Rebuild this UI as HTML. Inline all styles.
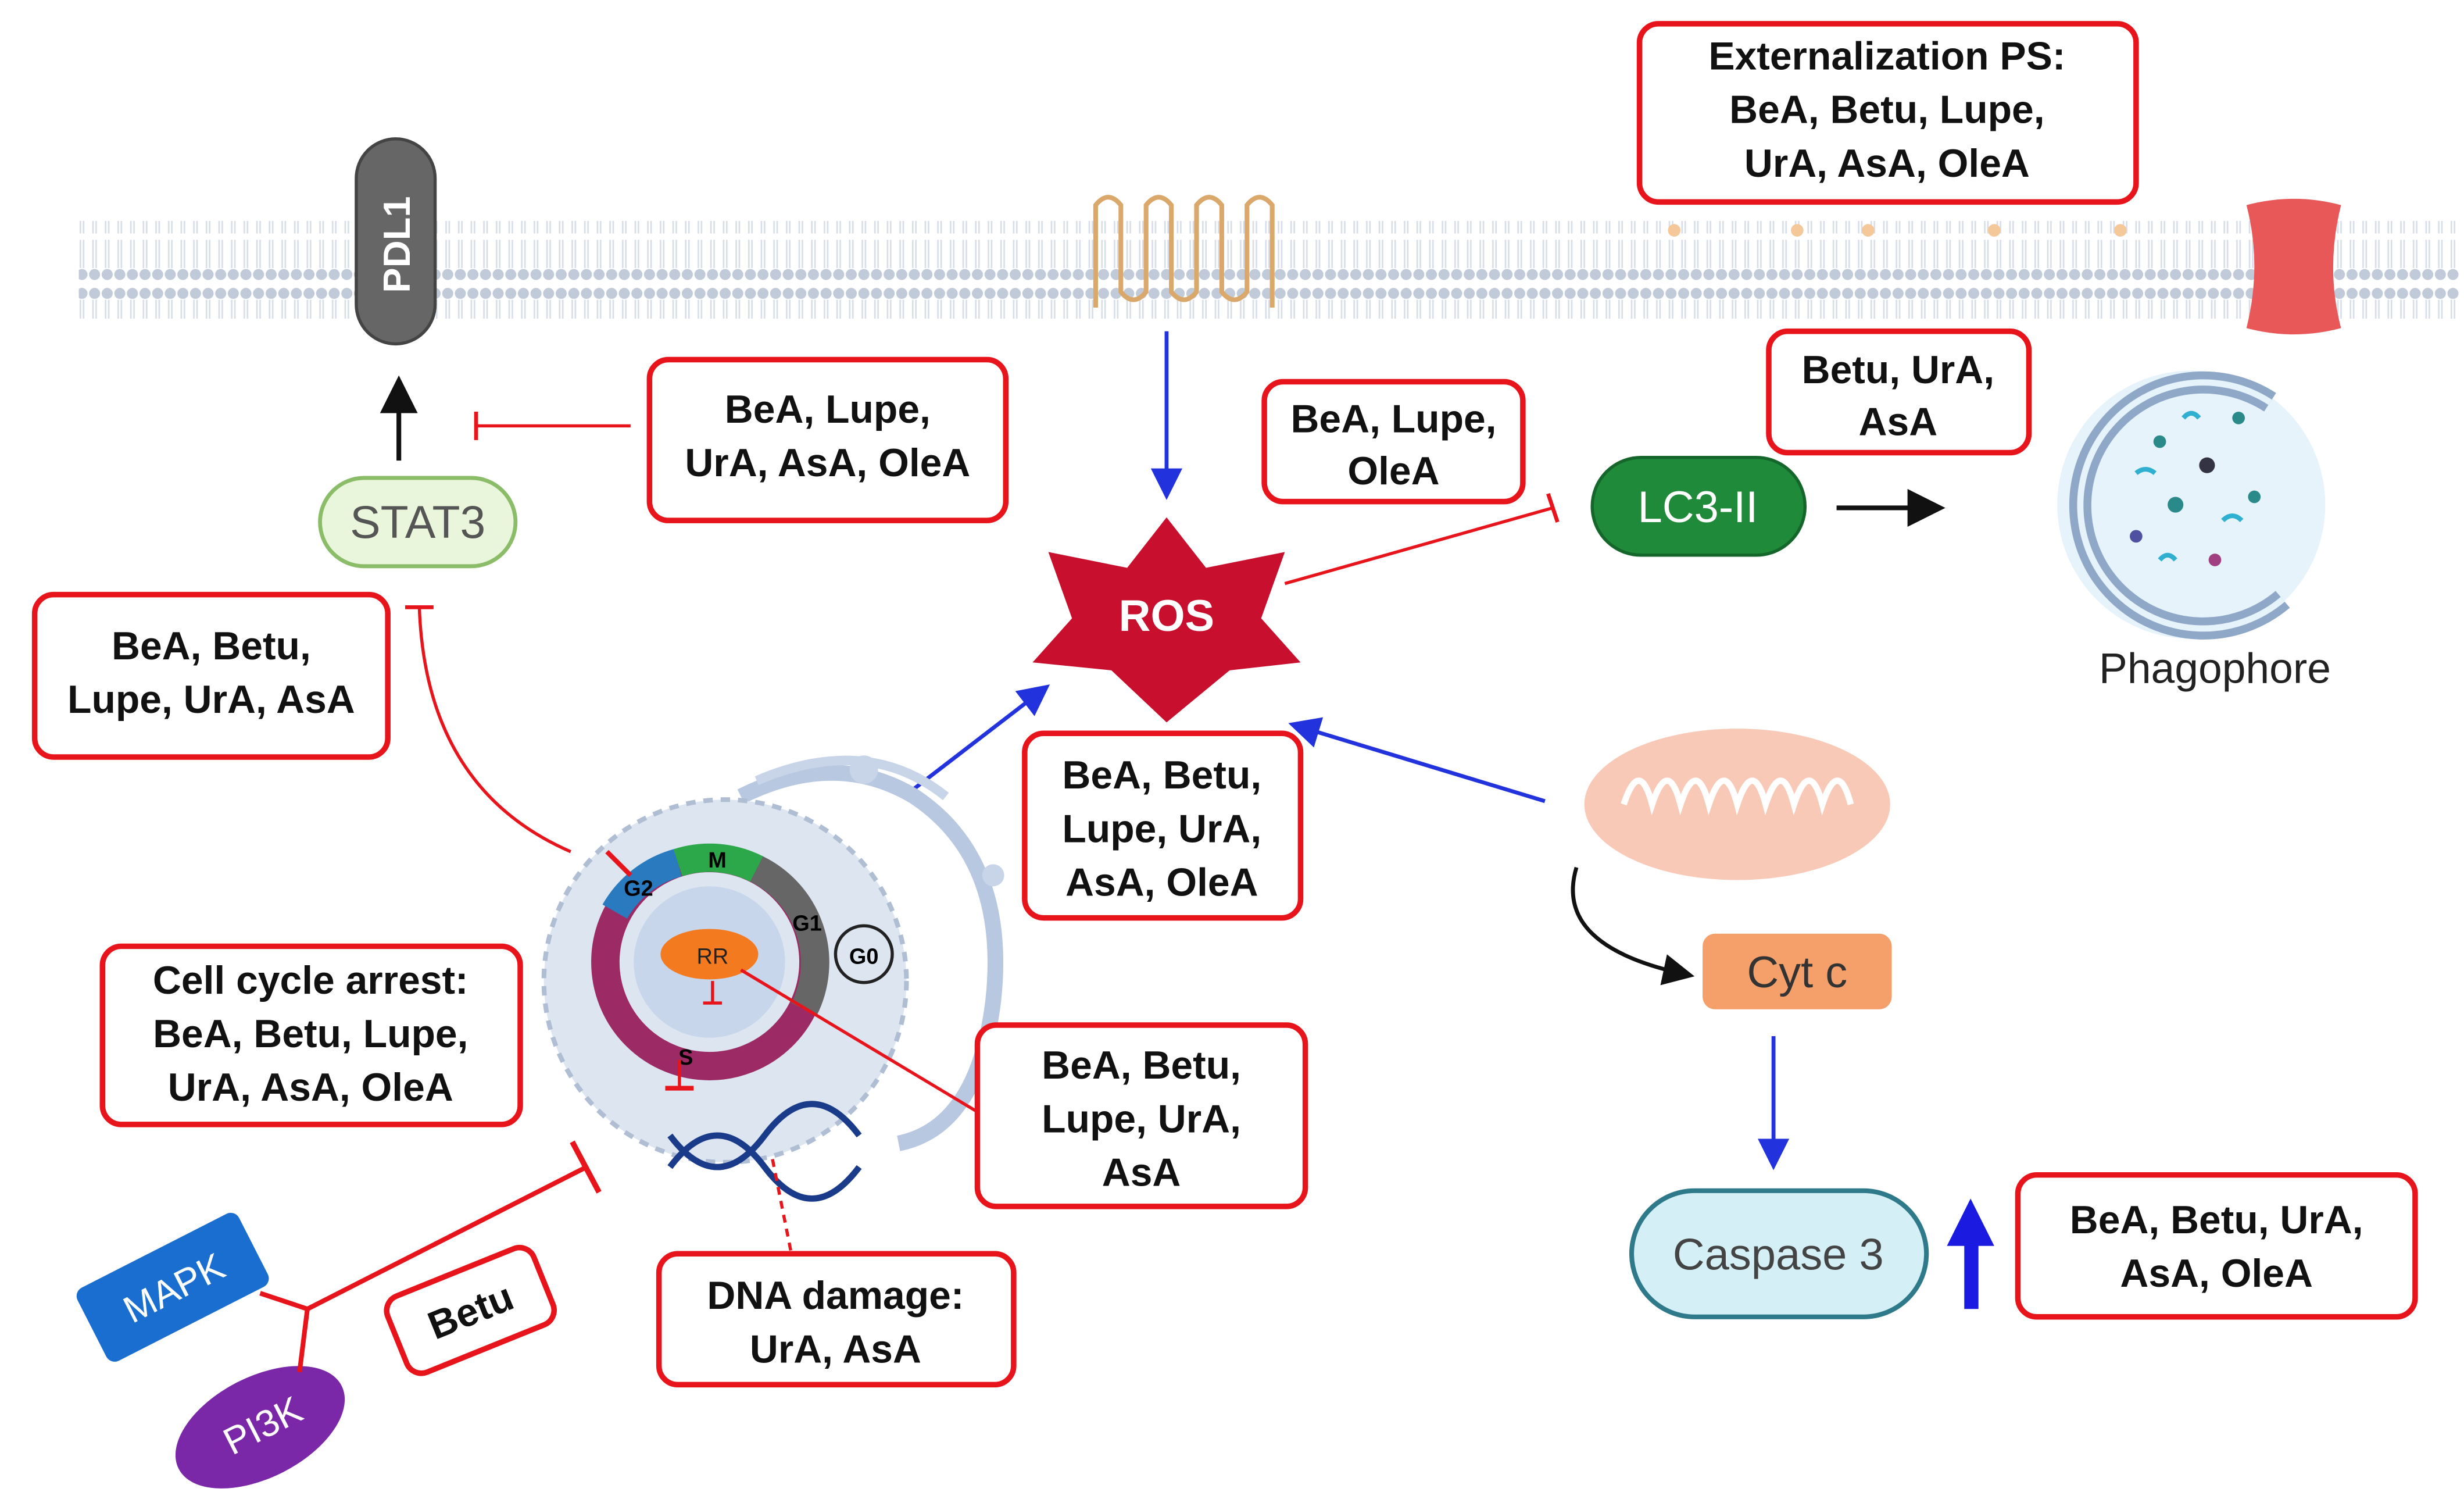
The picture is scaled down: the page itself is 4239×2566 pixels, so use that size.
<!DOCTYPE html>
<html><head><meta charset="utf-8"><style>
html,body{margin:0;padding:0;background:#fff}
svg{display:block}
.b{fill:#fff;stroke:#e8141c;stroke-width:3.5}
.t{font-family:"Liberation Sans",sans-serif;font-weight:bold;font-size:25px;fill:#111;text-anchor:middle}
</style></head><body>
<svg width="4239" height="2566" viewBox="0 0 1563 946" xmlns="http://www.w3.org/2000/svg">
<defs>
<pattern id="mem" width="8" height="60" patternUnits="userSpaceOnUse">
<circle cx="4" cy="6" r="3.5" fill="#c0cad8"/>
<circle cx="4" cy="54" r="3.5" fill="#c0cad8"/>
<line x1="3" y1="10" x2="3" y2="28" stroke="#d8dee8" stroke-width="1"/>
<line x1="5" y1="10" x2="5" y2="28" stroke="#d8dee8" stroke-width="1"/>
<line x1="3" y1="32" x2="3" y2="50" stroke="#d8dee8" stroke-width="1"/>
<line x1="5" y1="32" x2="5" y2="50" stroke="#d8dee8" stroke-width="1"/>
</pattern>
<marker id="ab" markerWidth="8" markerHeight="8" refX="6" refY="4" orient="auto"><path d="M0,0L8,4L0,8z" fill="#2233dd"/></marker>
<marker id="ak" markerWidth="8" markerHeight="8" refX="6" refY="4" orient="auto"><path d="M0,0L8,4L0,8z" fill="#111"/></marker>
</defs>
<rect x="50" y="140" width="1510" height="62" fill="url(#mem)"/>
<g fill="#f5c89a"><circle cx="1062" cy="146" r="4"/><circle cx="1140" cy="146" r="4"/><circle cx="1185" cy="146" r="4"/><circle cx="1265" cy="146" r="4"/><circle cx="1345" cy="146" r="4"/></g>
<!-- PDL1 -->
<rect x="226" y="88" width="50" height="130" rx="25" fill="#666" stroke="#444" stroke-width="2"/>
<text x="0" y="0" transform="translate(260,155) rotate(-90)" font-family="Liberation Sans,sans-serif" font-weight="bold" font-size="24" fill="#fff" text-anchor="middle">PDL1</text>
<line x1="253" y1="292" x2="253" y2="244" stroke="#111" stroke-width="3" marker-end="url(#ak)"/>
<rect x="203" y="303" width="124" height="56" rx="28" fill="#eaf6dc" stroke="#8bbd68" stroke-width="2.5"/>
<text x="265" y="341" font-family="Liberation Sans,sans-serif" font-size="29" fill="#555" text-anchor="middle">STAT3</text>
<line x1="400" y1="270" x2="302" y2="270" stroke="#e8141c" stroke-width="2"/><line x1="302" y1="261" x2="302" y2="279" stroke="#e8141c" stroke-width="2.5"/>
<rect class="b" x="412" y="228" width="226" height="102" rx="12"/><text class="t" x="525" y="268">BeA, Lupe,</text><text class="t" x="525" y="302">UrA, AsA, OleA</text>
<rect class="b" x="22" y="377" width="224" height="103" rx="12"/><text class="t" x="134" y="418">BeA, Betu,</text><text class="t" x="134" y="452">Lupe, UrA, AsA</text>
<path d="M362,540 Q270,500 266,385" fill="none" stroke="#e8141c" stroke-width="2"/><line x1="257" y1="385" x2="275" y2="385" stroke="#e8141c" stroke-width="2.5"/>
<!-- GPCR -->
<path d="M695,195 V130 q8,-10 16,0 V185 q8,10 16,0 V130 q8,-10 16,0 V185 q8,10 16,0 V130 q8,-10 16,0 V185 q8,10 16,0 V130 q8,-10 16,0 V195" fill="none" stroke="#d9a86a" stroke-width="3"/>
<line x1="740" y1="210" x2="740" y2="312" stroke="#2233dd" stroke-width="2.5" marker-end="url(#ab)"/>
<!-- ROS -->
<polygon points="740,328 765,360 815,350 800,392 825,420 780,425 740,458 705,425 655,420 680,392 665,350 715,360" fill="#c8102e"/>
<text x="740" y="400" font-family="Liberation Sans,sans-serif" font-weight="bold" font-size="28" fill="#fff" text-anchor="middle">ROS</text>
<rect class="b" x="802" y="242" width="164" height="76" rx="12"/><text class="t" x="884" y="274">BeA, Lupe,</text><text class="t" x="884" y="307">OleA</text>
<line x1="815" y1="370" x2="985" y2="322" stroke="#e8141c" stroke-width="2"/><line x1="982" y1="313" x2="988" y2="331" stroke="#e8141c" stroke-width="2.5"/>
<rect x="1010" y="290" width="135" height="62" rx="31" fill="#1f8a3a" stroke="#14662a" stroke-width="2"/>
<text x="1077" y="331" font-family="Liberation Sans,sans-serif" font-size="28" fill="#fff" text-anchor="middle">LC3-II</text>
<line x1="1165" y1="322" x2="1228" y2="322" stroke="#111" stroke-width="3" marker-end="url(#ak)"/>
<rect class="b" x="1122" y="210" width="165" height="77" rx="12"/><text class="t" x="1204" y="243">Betu, UrA,</text><text class="t" x="1204" y="276">AsA</text>
<rect class="b" x="1040" y="15" width="315" height="113" rx="12"/><text class="t" x="1197" y="44">Externalization PS:</text><text class="t" x="1197" y="78">BeA, Betu, Lupe,</text><text class="t" x="1197" y="112">UrA, AsA, OleA</text>
<path d="M1425,130 q30,-8 60,0 q-10,40 0,78 q-30,8 -60,0 q10,-40 0,-78z" fill="#e85858"/>
<!-- phagophore -->
<circle cx="1390" cy="320" r="85" fill="#e6f3fa"/>
<path d="M1440,255 A78,78 0 1 0 1448,380" fill="none" stroke="#8fa8c8" stroke-width="14"/>
<path d="M1440,255 A78,78 0 1 0 1448,380" fill="none" stroke="#e6f3fa" stroke-width="4"/>
<g fill="#2a8a8a"><circle cx="1370" cy="280" r="4"/><circle cx="1400" cy="295" r="5" fill="#334"/><circle cx="1420" cy="265" r="4"/><circle cx="1380" cy="320" r="5"/><circle cx="1430" cy="315" r="4"/><circle cx="1405" cy="355" r="4" fill="#a04080"/><circle cx="1355" cy="340" r="4" fill="#5050a0"/></g>
<g stroke="#30b0d0" stroke-width="3" fill="none"><path d="M1385,265 q5,-6 10,0"/><path d="M1355,300 q6,-5 12,0"/><path d="M1410,330 q6,-6 12,0"/><path d="M1370,355 q5,-6 10,0"/></g>
<text x="1405" y="433" font-family="Liberation Sans,sans-serif" font-size="27" fill="#222" text-anchor="middle">Phagophore</text>
<!-- mito -->
<ellipse cx="1102" cy="510" rx="97" ry="48" fill="#f9c9b8"/>
<path d="M1030,510 q10,-30 18,0 q10,-30 18,0 q10,-30 18,0 q10,-30 18,0 q10,-30 18,0 q10,-30 18,0 q10,-30 18,0 q10,-30 18,0" fill="none" stroke="#fff" stroke-width="4"/>
<path d="M1000,550 Q985,600 1070,618" fill="none" stroke="#111" stroke-width="2.5" marker-end="url(#ak)"/>
<rect x="1080" y="592" width="120" height="48" rx="8" fill="#f5a06a"/>
<text x="1140" y="626" font-family="Liberation Sans,sans-serif" font-size="28" fill="#333" text-anchor="middle">Cyt c</text>
<line x1="1125" y1="657" x2="1125" y2="737" stroke="#2233dd" stroke-width="2.5" marker-end="url(#ab)"/>
<rect x="1035" y="755" width="187" height="80" rx="40" fill="#d4eff5" stroke="#2e7a8a" stroke-width="3"/>
<text x="1128" y="805" font-family="Liberation Sans,sans-serif" font-size="28" fill="#444" text-anchor="middle">Caspase 3</text>
<rect x="1246" y="785" width="9" height="45" fill="#1a1ae0"/><polygon points="1235,790 1250,760 1265,790" fill="#1a1ae0"/>
<rect class="b" x="1280" y="745" width="252" height="90" rx="12"/><text class="t" x="1406" y="782">BeA, Betu, UrA,</text><text class="t" x="1406" y="816">AsA, OleA</text>
<rect class="b" x="650" y="465" width="175" height="117" rx="12"/><text class="t" x="737" y="500">BeA, Betu,</text><text class="t" x="737" y="534">Lupe, UrA,</text><text class="t" x="737" y="568">AsA, OleA</text>
<line x1="980" y1="508" x2="822" y2="460" stroke="#2233dd" stroke-width="2.5" marker-end="url(#ab)"/>
<line x1="580" y1="500" x2="662" y2="437" stroke="#2233dd" stroke-width="2.5" marker-end="url(#ab)"/>
<!-- cell -->
<path d="M470,505 q60,-30 110,0 q60,40 50,130 q-10,80 -60,90" fill="none" stroke="#b8c8e0" stroke-width="10"/>
<path d="M480,495 q70,-30 120,10" fill="none" stroke="#c8d4e8" stroke-width="6"/>
<circle cx="548" cy="488" r="9" fill="#c8d4e8"/><circle cx="630" cy="555" r="7" fill="#c8d4e8"/>
<circle cx="460" cy="622" r="115" fill="#dde5f0" stroke="#b0bed4" stroke-width="3" stroke-dasharray="6,5"/>
<circle cx="450" cy="610" r="66" fill="none" stroke="#9c2a64" stroke-width="18"/>
<path d="M390,578 A66,66 0 0 1 430,547" fill="none" stroke="#2a7ac0" stroke-width="18"/>
<path d="M430,547 A66,66 0 0 1 480,551" fill="none" stroke="#2ca84a" stroke-width="18"/>
<path d="M480,551 A66,66 0 0 1 510,640" fill="none" stroke="#666" stroke-width="18"/>
<circle cx="450" cy="610" r="48" fill="#c8d6ec"/>
<text x="455" y="550" font-family="Liberation Sans,sans-serif" font-weight="bold" font-size="14" text-anchor="middle">M</text>
<text x="405" y="568" font-family="Liberation Sans,sans-serif" font-weight="bold" font-size="14" text-anchor="middle">G2</text>
<text x="512" y="590" font-family="Liberation Sans,sans-serif" font-weight="bold" font-size="14" text-anchor="middle">G1</text>
<text x="435" y="675" font-family="Liberation Sans,sans-serif" font-weight="bold" font-size="14" text-anchor="middle">S</text>
<circle cx="548" cy="605" r="18" fill="none" stroke="#222" stroke-width="2"/>
<text x="548" y="611" font-family="Liberation Sans,sans-serif" font-weight="bold" font-size="14" text-anchor="middle">G0</text>
<line x1="385" y1="540" x2="400" y2="555" stroke="#e8141c" stroke-width="3"/>
<line x1="422" y1="690" x2="440" y2="690" stroke="#e8141c" stroke-width="3"/><line x1="431" y1="672" x2="431" y2="690" stroke="#e8141c" stroke-width="2"/>
<ellipse cx="450" cy="605" rx="31" ry="16" fill="#f47a20"/>
<text x="452" y="611" font-family="Liberation Sans,sans-serif" font-size="14" fill="#222" text-anchor="middle">RR</text>
<line x1="452" y1="622" x2="452" y2="636" stroke="#e8141c" stroke-width="2"/><line x1="446" y1="636" x2="458" y2="636" stroke="#e8141c" stroke-width="2"/>
<path d="M425,740 q30,-40 60,0 q30,40 60,0" fill="none" stroke="#1a3a8a" stroke-width="4"/><path d="M425,720 q30,40 60,0 q30,-40 60,0" fill="none" stroke="#1a3a8a" stroke-width="4"/>
<line x1="490" y1="735" x2="502" y2="795" stroke="#e8141c" stroke-width="2" stroke-dasharray="5,4"/>
<line x1="470" y1="615" x2="620" y2="705" stroke="#e8141c" stroke-width="2"/>
<rect class="b" x="620" y="650" width="208" height="115" rx="12"/><text class="t" x="724" y="684">BeA, Betu,</text><text class="t" x="724" y="718">Lupe, UrA,</text><text class="t" x="724" y="752">AsA</text>
<rect class="b" x="65" y="600" width="265" height="113" rx="12"/><text class="t" x="197" y="630">Cell cycle arrest:</text><text class="t" x="197" y="664">BeA, Betu, Lupe,</text><text class="t" x="197" y="698">UrA, AsA, OleA</text>
<rect class="b" x="418" y="795" width="225" height="83" rx="12"/><text class="t" x="530" y="830">DNA damage:</text><text class="t" x="530" y="864">UrA, AsA</text>
<!-- MAPK/PI3K -->
<rect x="52" y="790" width="115" height="52" rx="6" fill="#1a6ed0" transform="rotate(-27 110 816)"/>
<text x="110" y="825" transform="rotate(-27 110 816)" font-family="Liberation Sans,sans-serif" font-size="24" fill="#fff" text-anchor="middle">MAPK</text>
<ellipse cx="165" cy="905" rx="58" ry="32" fill="#7a28a8" transform="rotate(-27 165 905)"/>
<text x="167" y="913" transform="rotate(-27 165 905)" font-family="Liberation Sans,sans-serif" font-size="24" fill="#fff" text-anchor="middle">PI3K</text>
<polyline points="165,820 195,830 190,870" fill="none" stroke="#e8141c" stroke-width="3"/>
<line x1="195" y1="830" x2="372" y2="740" stroke="#e8141c" stroke-width="3"/><line x1="363" y1="724" x2="380" y2="756" stroke="#e8141c" stroke-width="3.5"/>
<g transform="rotate(-22 298 830)"><rect class="b" x="248" y="805" width="100" height="52" rx="10"/><text class="t" x="298" y="840">Betu</text></g>
</svg>
</body></html>
